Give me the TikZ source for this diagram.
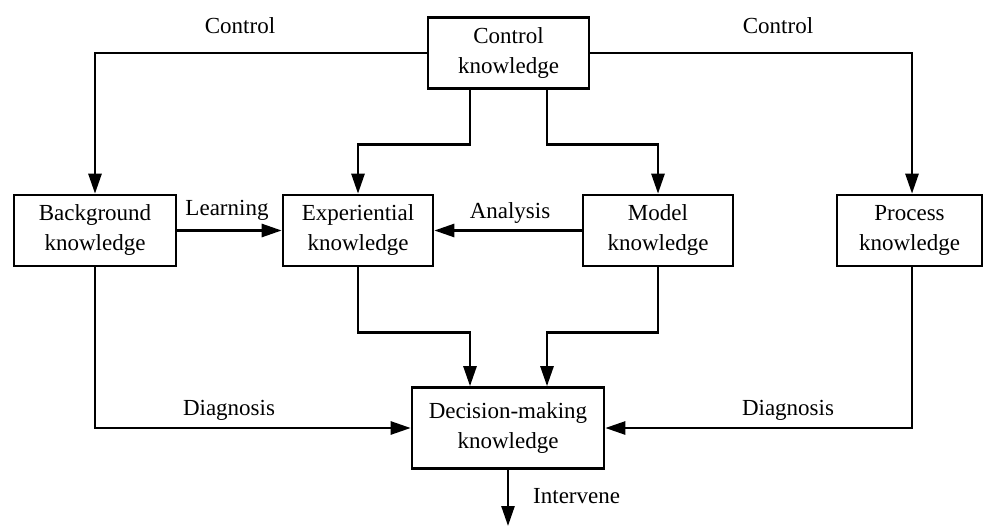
\documentclass[tikz,border=0pt]{standalone}
\usepackage{fontspec}
\setmainfont{Liberation Serif}
\usetikzlibrary{arrows.meta}
\begin{document}
\begin{tikzpicture}[x=1pt,y=-1pt,
  every node/.style={font=\fontsize{23}{30}\selectfont},
  kbox/.style={draw,line width=2.6pt,align=center,inner sep=0pt},
  link/.style={line width=2.6pt},
  arr/.style={link,-{Triangle[length=20pt,width=13pt]}},
  tag/.style={inner sep=0pt,anchor=base}]
\useasboundingbox (0,0) rectangle (984,526);

% knowledge boxes
\node[kbox,minimum width=161pt,minimum height=71pt] (ctrl)  at (508.5,53)   {Control\\knowledge};
\node[kbox,minimum width=162pt,minimum height=71pt] (bg)    at (95,230.5)   {Background\\knowledge};
\node[kbox,minimum width=150pt,minimum height=71pt] (exp)   at (358,230.5)  {Experiential\\knowledge};
\node[kbox,minimum width=150pt,minimum height=71pt] (model) at (658,230.5)  {Model\\knowledge};
\node[kbox,minimum width=145pt,minimum height=71pt] (proc)  at (909.5,230.5){Process\\knowledge};
\node[kbox,minimum width=192pt,minimum height=81pt] (dec)   at (508,428)    {Decision-making\\knowledge};
\coordinate (out) at (508,526);

% control links from the top box
\draw[arr] (ctrl.west) -| (bg.north);
\draw[arr] (ctrl.east) -| ([xshift=2.5pt]proc.north);
\draw[arr] ([xshift=-38.5pt]ctrl.south) -- ++(0,55) -| (exp.north);
\draw[arr] ([xshift=38.5pt]ctrl.south) -- ++(0,55) -| (model.north);

% learning and analysis
\draw[arr] (bg.east) -- (exp.west);
\draw[arr] (model.west) -- (exp.east);

% feeds into decision-making
\draw[arr] (exp.south) -- ++(0,65) -| ([xshift=-38pt]dec.north);
\draw[arr] (model.south) -- ++(0,65) -| ([xshift=39pt]dec.north);
\draw[arr] (bg.south) |- (dec.west);
\draw[arr] ([xshift=2.5pt]proc.south) |- (dec.east);
\draw[arr] (dec.south) -- (out);

% labels
\node[tag] (lc1) at (240,34)  {Control};
\node[tag] (lc2) at (778,34)  {Control};
\node[tag] (ll)  at (227,216) {Learning};
\node[tag] (la)  at (510,219) {Analysis};
\node[tag] (ld1) at (229,415) {Diagnosis};
\node[tag] (ld2) at (788,415) {Diagnosis};
\node[tag,anchor=base west] (li) at (533,503) {Intervene};
\end{tikzpicture}
\end{document}
